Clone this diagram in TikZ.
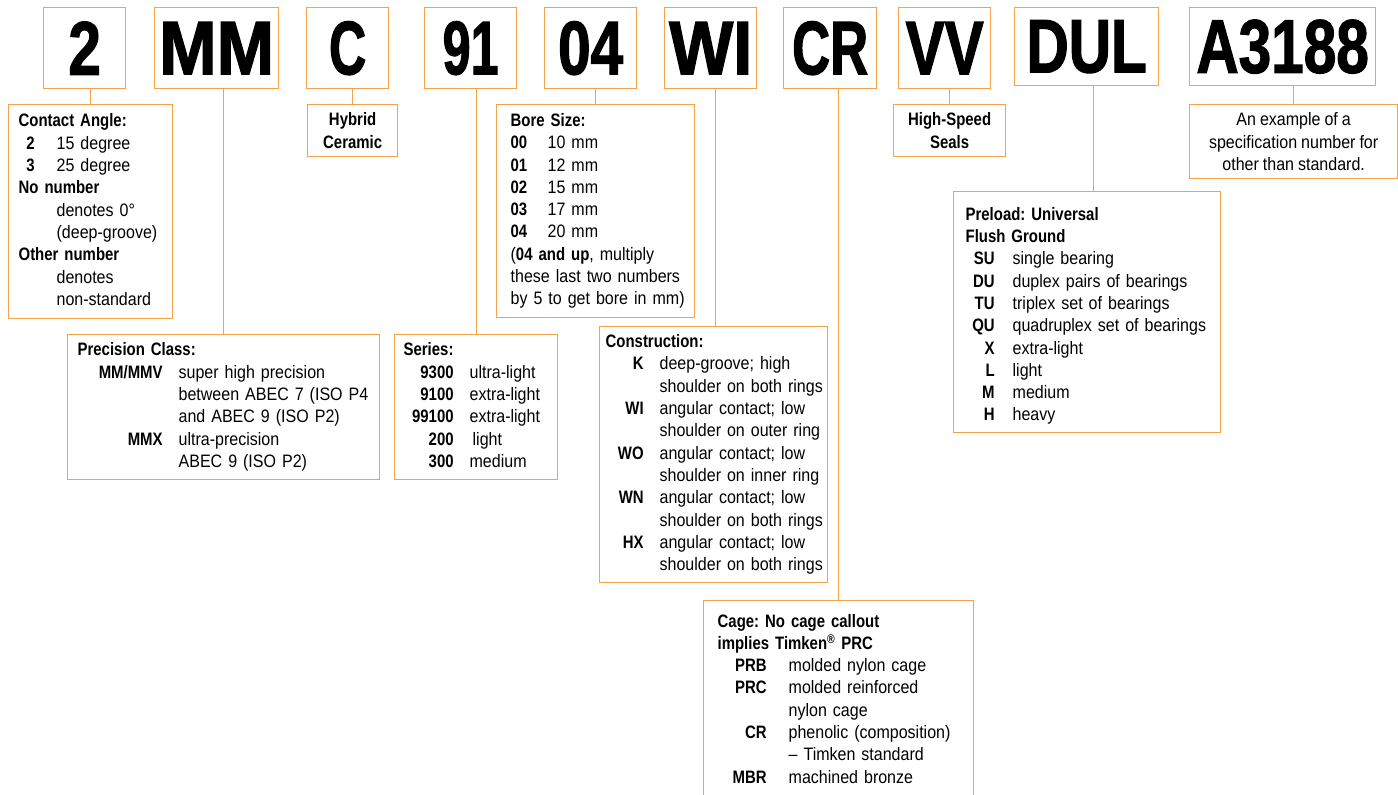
\documentclass[tikz,border=0pt]{standalone}
\usepackage{fontspec}
\usepackage{array}
\usepackage{graphicx}
\setmainfont{Liberation Sans}[UprightFeatures={FakeStretch=0.89,WordSpace=0.9},BoldFeatures={FakeStretch=0.83,WordSpace=0.75}]
\newfontfamily\bigfont{Liberation Sans}[FakeStretch=0.77,FakeBold=1.5]
\definecolor{tor}{RGB}{246,162,74}
\newcolumntype{R}[1]{>{\raggedleft\bfseries}p{#1}}
\newcommand{\boxhead}[1]{\multicolumn{2}{@{}l@{}}{\bfseries #1}}
\newcommand{\boxline}[1]{\multicolumn{2}{@{}l@{}}{#1}}
\newcommand{\xstretch}[2]{\scalebox{#1}[1]{#2}}
\frenchspacing

\begin{document}
\begin{tikzpicture}[x=1pt,y=-1pt,
    codebox/.style={draw=tor,line width=1.3pt,inner sep=0pt,minimum height=81pt,anchor=north west,
      font=\bigfont\bfseries\fontsize{76}{80}\selectfont},
    notebox/.style={draw=tor,line width=1.3pt,anchor=north west,align=left,inner ysep=0pt,
      font=\fontsize{18}{22.3}\selectfont},
    tagbox/.style={draw=tor,line width=1.3pt,anchor=north west,align=center,inner sep=0pt,
      font=\fontsize{18}{22.3}\selectfont},
    link/.style={draw=tor,line width=1.3pt}]
    \useasboundingbox (0,0) rectangle (1398,795);
    %
    % the number, one box per part
    \node[codebox,minimum width=82pt] (c2) at (43,7) {2};
    \node[codebox,minimum width=124pt] (cMM) at (154,7) {\xstretch{1.18}{MM}};
    \node[codebox,minimum width=82pt] (cC) at (306,7) {\xstretch{0.88}{C}};
    \node[codebox,minimum width=92pt] (c91) at (424,7) {\xstretch{0.86}{91}};
    \node[codebox,minimum width=92pt] (c04) at (544,7) {04};
    \node[codebox,minimum width=92pt] (cWI) at (664,7) {\xstretch{1.16}{WI}};
    \node[codebox,minimum width=93pt] (cCR) at (783,7) {\xstretch{0.9}{CR}};
    \node[codebox,minimum width=92pt] (cVV) at (898,7) {VV};
    \node[codebox,minimum width=144pt,minimum height=78pt] (cDUL) at (1014,7) {DUL};
    \node[codebox,minimum width=186pt,minimum height=78pt] (cA) at (1189,7) {A3188};
    %
    % first row of notes
    \node[notebox,inner xsep=10pt,text width=144pt,minimum height=214pt] (ang) at (8,104) {%
      \begin{tabular}{@{}R{16pt}@{\hspace{22pt}}l@{}}
        \boxhead{Contact Angle:}\\
        2 & 15 degree\\
        3 & 25 degree\\
        \boxhead{No number}\\
          & denotes 0°\\
          & (deep-groove)\\
        \boxhead{Other number}\\
          & denotes\\
          & non-standard
      \end{tabular}};
    \node[tagbox,minimum width=90pt,minimum height=52pt,font=\fontsize{18}{22.3}\selectfont\bfseries] (hyb) at (307,104) {Hybrid\\Ceramic};
    \node[notebox,inner xsep=14pt,text width=170pt,minimum height=213pt] (bore) at (496,104) {%
      \begin{tabular}{@{}>{\bfseries}p{37pt}@{}l@{}}
        \boxhead{Bore Size:}\\
        00 & 10 mm\\
        01 & 12 mm\\
        02 & 15 mm\\
        03 & 17 mm\\
        04 & 20 mm\\
        \boxline{(\textbf{04 and up}, multiply}\\
        \boxline{these last two numbers}\\
        \boxline{by 5 to get bore in mm)}
      \end{tabular}};
    \node[tagbox,minimum width=112pt,minimum height=52pt,font=\fontsize{18}{22.3}\selectfont\bfseries] (hs) at (893,104) {High-Speed\\Seals};
    \node[tagbox,minimum width=208pt,minimum height=74pt] (ex) at (1189,104) {An example of a\\specification number for\\other than standard.};
    \node[notebox,inner xsep=12pt,text width=243pt,minimum height=241pt] (pre) at (953,191) {%
      \begin{tabular}{@{}R{29pt}@{\hspace{18pt}}l@{}}
        \boxhead{\rule{0pt}{23.6pt}Preload: Universal}\\
        \boxhead{Flush Ground}\\
        SU & single bearing\\
        DU & duplex pairs of bearings\\
        TU & triplex set of bearings\\
        QU & quadruplex set of bearings\\
        X & extra-light\\
        L & light\\
        M & medium\\
        H & heavy
      \end{tabular}};
    %
    % second row of notes
    \node[notebox,inner xsep=10pt,text width=292pt,minimum height=145pt] (prec) at (67,334) {%
      \begin{tabular}{@{}R{85pt}@{\hspace{16pt}}l@{}}
        \boxhead{Precision Class:}\\
        MM/MMV & super high precision\\
               & between ABEC 7 (ISO P4\\
               & and ABEC 9 (ISO P2)\\
        MMX & ultra-precision\\
            & ABEC 9 (ISO P2)
      \end{tabular}};
    \node[notebox,inner xsep=9pt,text width=145pt,minimum height=145pt] (ser) at (394,334) {%
      \begin{tabular}{@{}R{50pt}@{\hspace{16pt}}l@{}}
        \boxhead{Series:}\\
        9300 & ultra-light\\
        9100 & extra-light\\
        99100 & extra-light\\
        200 & \hspace{3pt}light\\
        300 & medium
      \end{tabular}};
    \node[notebox,inner xsep=6pt,text width=216pt,minimum height=256pt] (con) at (599,326) {%
      \begin{tabular}{@{}R{38pt}@{\hspace{16pt}}l@{}}
        \boxhead{Construction:}\\
        K & deep-groove; high\\
          & shoulder on both rings\\
        WI & angular contact; low\\
           & shoulder on outer ring\\
        WO & angular contact; low\\
           & shoulder on inner ring\\
        WN & angular contact; low\\
           & shoulder on both rings\\
        HX & angular contact; low\\
           & shoulder on both rings
      \end{tabular}};
    \node[notebox,inner xsep=14pt,text width=242pt,minimum height=200pt] (cage) at (703,600) {%
      \begin{tabular}{@{}R{49pt}@{\hspace{22pt}}l@{}}
        \boxhead{Cage: No cage callout}\\
        \boxhead{implies Timken\textsuperscript{®} PRC}\\
        PRB & molded nylon cage\\
        PRC & molded reinforced\\
            & nylon cage\\
        CR & phenolic (composition)\\
           & -- Timken standard\\
        MBR & machined bronze
      \end{tabular}};
    %
    % leaders from each part to its note
    \draw[link] (ang.north) -- (ang.north |- c2.south);
    \draw[link] (prec.north) -- (prec.north |- cMM.south);
    \draw[link] (hyb.north) -- (hyb.north |- cC.south);
    \draw[link] (ser.north) -- (ser.north |- c91.south);
    \draw[link] (bore.north) -- (bore.north |- c04.south);
    \draw[link] ([xshift=2pt]con.north) -- ([xshift=2pt]con.north |- cWI.south);
    \draw[link] (cage.north) -- (cage.north |- cCR.south);
    \draw[link] (hs.north) -- (hs.north |- cVV.south);
    \draw[link] ([xshift=6.5pt]pre.north) -- ([xshift=6.5pt]pre.north |- cDUL.south);
    \draw[link] (ex.north) -- (ex.north |- cA.south);
    %
\end{tikzpicture}
\end{document}
